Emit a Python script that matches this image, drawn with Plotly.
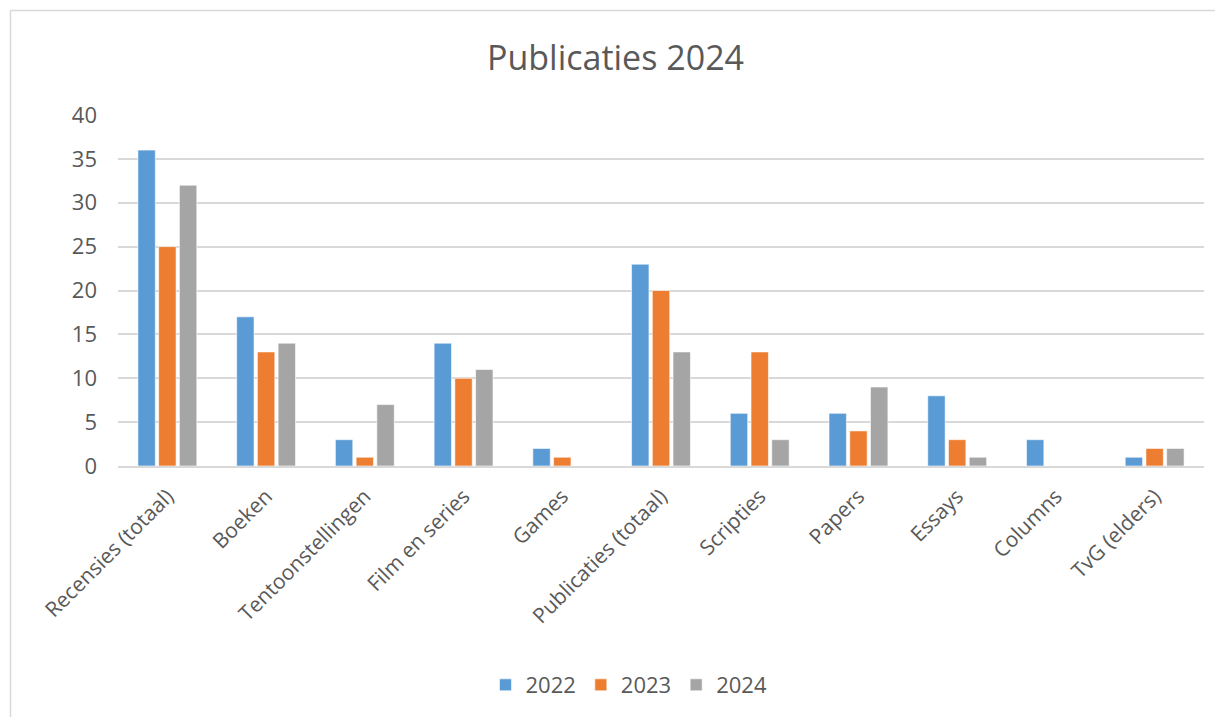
import plotly.graph_objects as go

categories = ["Recensies (totaal)", "Boeken", "Tentoonstellingen", "Film en series", "Games",
              "Publicaties (totaal)", "Scripties", "Papers", "Essays", "Columns", "TvG (elders)"]
values_2022 = [36, 17, 3, 14, 2, 23, 6, 6, 8, 3, 1]
values_2023 = [25, 13, 1, 10, 1, 20, 13, 4, 3, 0, 2]
values_2024 = [32, 14, 7, 11, 0, 13, 3, 9, 1, 0, 2]
series_names = ["2022", "2023", "2024"]
y_ticks = [0, 5, 10, 15, 20, 25, 30, 35, 40]

colors = ["#5B9BD5", "#ED7D31", "#A5A5A5"]
OFF = 8  # page body margin
W, H = 1223 - OFF, 717 - OFF
L, R, T, B = 118 - OFF, 1204 - OFF, 115 - OFF, 466 - OFF

fig = go.Figure()
for name, vals, c in zip(series_names, [values_2022, values_2023, values_2024], colors):
    fig.add_trace(go.Bar(x=categories, y=vals, name=name,
                         marker=dict(color=c, line=dict(color="rgba(255,255,255,0.6)", width=1))))

def px_x(p):
    return (p - OFF - L) / (R - L)

def px_y(p):
    return (B - (p - OFF)) / (B - T)

font = "Open Sans, Segoe UI, sans-serif"
fig.update_layout(
    width=W, height=H,
    margin=dict(l=L, r=W - R, t=T, b=H - B, autoexpand=False),
    paper_bgcolor="white", plot_bgcolor="white",
    barmode="group", bargap=0.37, bargroupgap=0.16,
    font=dict(family=font, color="#595959", size=21),
    title=dict(text="Publicaties 2024", x=0.5, xanchor="center", y=1 - (58 - OFF) / H, yanchor="middle",
               font=dict(size=34, color="#595959", family=font)),
    yaxis=dict(range=[0, 40], tickvals=y_ticks, showgrid=True, gridcolor="#D9D9D9", gridwidth=1.5,
               zeroline=False, showline=False, ticks="", ticklabelstandoff=20,
               tickfont=dict(size=22, color="#595959")),
    xaxis=dict(tickangle=-45, showline=True, linecolor="#D9D9D9", linewidth=1.5, ticks="",
               ticklabelstandoff=8, tickfont=dict(size=21, color="#595959")),
    legend=dict(orientation="h", x=0.5 - 32 / (R - L), xanchor="center", y=px_y(685), yanchor="middle",
                font=dict(size=22, color="#595959"), itemwidth=30, traceorder="normal"),
    shapes=[
        dict(type="line", xref="paper", yref="paper", x0=px_x(10.5), x1=px_x(1240), y0=px_y(10.5), y1=px_y(10.5),
             line=dict(color="#D9D9D9", width=1.5)),
        dict(type="line", xref="paper", yref="paper", x0=px_x(10.5), x1=px_x(10.5), y0=px_y(10.5), y1=px_y(740),
             line=dict(color="#D9D9D9", width=1.5)),
    ],
)
fig.write_html("out.html")
